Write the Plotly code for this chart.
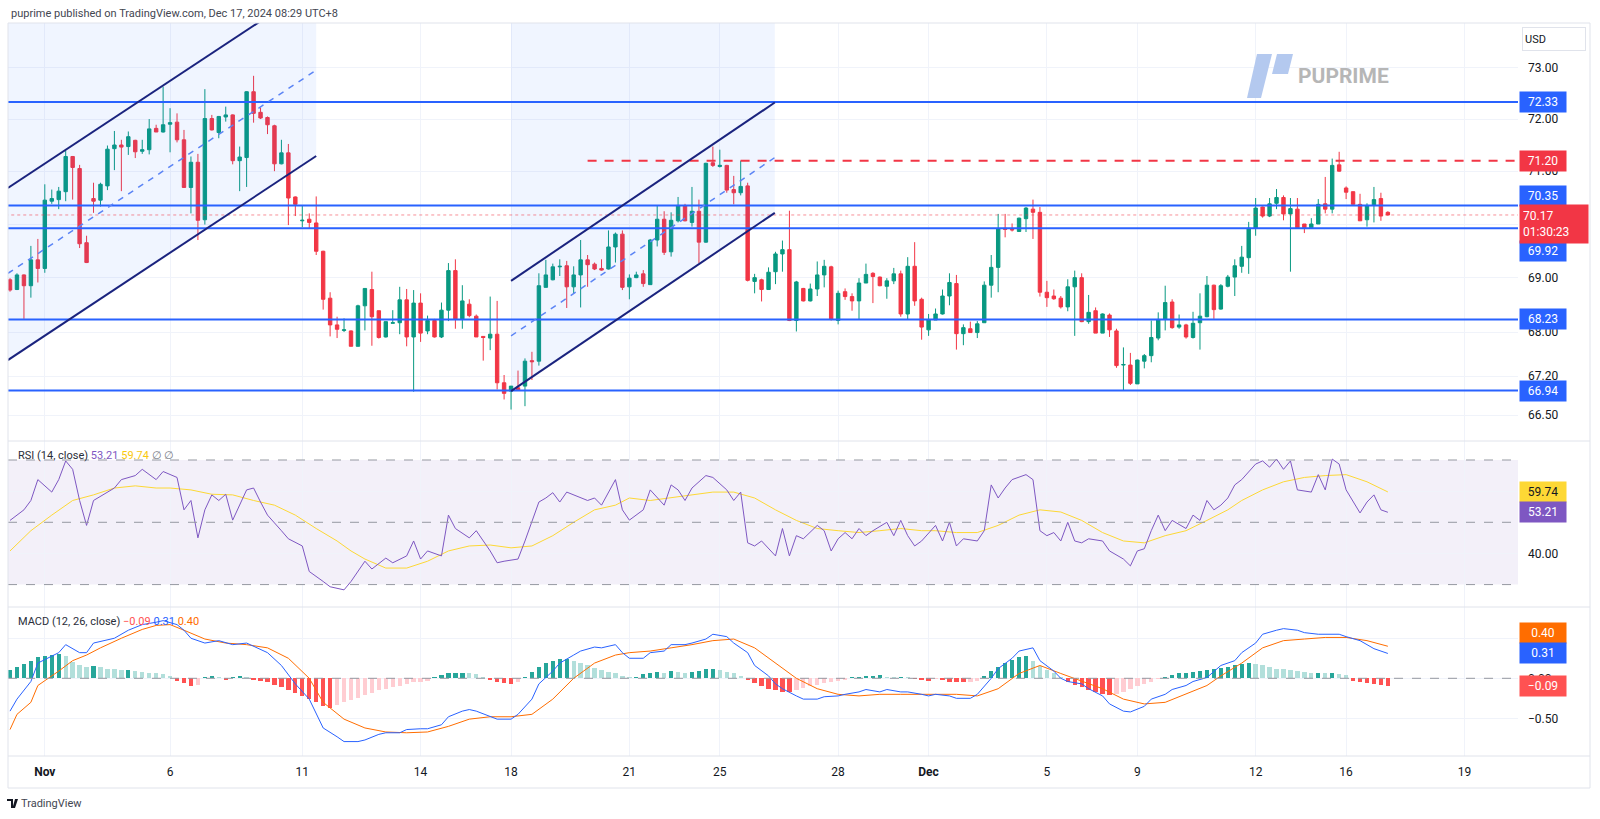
import math
import plotly.graph_objects as go

# ---------------- DATA ----------------
# 4h candles, bar index 0..198
opens = [68.96,68.78,69.05,68.85,69.33,69.17,70.43,70.46,70.61,71.28,
71.05,69.65,70.48,70.45,70.72,71.43,71.50,71.47,71.59,71.38,
71.41,71.82,71.75,71.90,71.94,71.60,70.69,71.17,70.08,72.01,
71.74,72.04,72.08,71.20,71.26,72.53,72.13,72.03,71.87,71.14,
71.35,70.51,70.06,70.09,70.02,69.49,68.62,68.13,68.03,68.02,
67.74,68.48,68.78,68.39,67.91,68.16,68.17,68.59,67.91,68.53,
68.02,68.21,67.91,68.40,69.13,68.24,68.51,68.29,67.92,67.89,
67.96,67.08,66.93,66.99,67.02,67.48,67.47,68.82,68.96,69.20,
69.22,68.83,69.05,69.33,69.25,69.17,69.16,69.57,69.81,68.83,
69.00,69.07,68.87,69.70,70.09,69.48,70.06,70.34,70.03,70.24,
69.66,71.16,71.09,71.11,70.65,70.59,70.72,68.93,68.96,68.78,
69.11,69.44,69.52,68.21,68.80,68.57,68.79,69.05,69.20,68.21,
68.74,68.65,68.57,68.90,69.08,69.01,68.84,68.94,69.07,68.33,
69.21,68.60,68.04,68.22,68.33,68.66,68.89,67.97,68.06,67.99,
68.17,68.86,69.19,69.92,69.90,69.86,70.10,70.28,70.22,68.73,
68.66,68.62,68.46,68.83,69.00,68.19,68.39,67.98,68.31,68.02,
67.40,67.40,67.06,67.47,67.57,67.89,68.23,68.55,68.09,68.13,
67.90,68.17,68.28,68.86,68.42,68.84,69.01,69.21,69.37,69.92,
70.32,70.15,70.39,70.50,70.19,70.28,70.00,69.93,70.00,70.38,
70.28,71.12,70.68,70.61,70.37,70.08,70.35,70.48,70.22]
highs = [68.99,69.08,69.06,69.59,69.72,70.75,70.65,70.70,71.39,71.29,
71.12,69.78,70.78,70.78,71.49,71.77,71.60,71.76,71.60,71.60,
72.00,71.89,72.63,72.21,72.11,71.79,71.28,71.33,72.58,72.08,
72.06,72.24,72.09,71.47,72.54,72.84,72.22,72.05,71.89,71.60,
71.52,70.52,70.34,70.20,70.52,69.50,68.73,68.28,68.25,68.03,
68.50,68.80,69.11,68.39,68.19,68.40,68.83,68.79,68.77,68.71,
68.30,68.24,68.54,69.27,69.34,68.86,68.60,68.32,67.92,68.65,
68.57,67.22,67.02,67.30,67.52,67.64,69.08,69.33,69.26,69.34,
69.31,69.21,69.70,69.42,69.28,69.34,69.88,69.84,69.88,69.06,
69.11,69.14,69.72,70.35,70.24,70.22,70.51,70.38,70.70,70.46,
71.16,71.47,71.41,71.12,70.91,71.20,70.78,69.07,68.98,69.19,
69.48,69.69,70.25,68.94,68.81,68.89,69.30,69.33,69.22,68.76,
68.80,68.71,68.99,69.26,69.10,69.02,68.99,69.18,69.13,69.38,
69.66,68.63,68.33,68.43,68.78,69.08,69.05,68.14,68.19,68.20,
68.93,69.42,70.19,70.19,70.01,70.12,70.32,70.46,70.32,68.94,
68.78,68.66,68.97,69.13,69.08,68.68,68.45,68.34,68.34,68.06,
67.72,67.62,67.50,67.60,68.21,68.36,68.85,68.60,68.32,68.15,
68.37,68.71,69.03,68.87,68.88,69.05,69.34,69.59,70.04,70.49,
70.33,70.49,70.66,70.54,70.49,70.49,70.00,70.11,70.47,70.89,
71.24,71.37,70.71,70.61,70.57,70.39,70.70,70.59,70.24]
lows = [68.74,68.77,68.24,68.63,68.91,69.09,70.38,70.28,70.43,70.46,
69.55,69.27,70.21,70.33,70.64,71.02,70.62,71.31,71.25,71.33,
71.32,71.75,71.74,71.36,71.55,70.68,70.20,69.70,69.99,71.78,
71.63,71.95,71.13,70.62,70.70,71.93,72.00,71.71,71.00,71.13,
69.98,70.15,69.94,69.92,69.42,68.41,67.92,67.89,68.00,67.74,
67.74,68.03,67.75,67.88,67.90,68.16,67.96,67.74,66.92,67.82,
67.96,67.90,67.89,68.20,68.06,68.06,68.27,67.91,67.48,67.67,
66.96,66.78,66.60,66.95,66.66,67.13,67.39,68.82,68.95,69.03,
68.44,68.71,68.45,68.83,69.14,69.13,69.15,69.28,68.77,68.60,
68.99,68.83,68.87,69.58,69.42,69.39,70.03,70.05,69.95,69.27,
69.65,71.08,71.07,70.59,70.37,70.54,68.93,68.71,68.56,68.78,
68.88,69.11,68.20,68.01,68.56,68.56,68.66,68.82,68.21,68.14,
68.59,68.39,68.23,68.90,68.53,68.84,68.61,68.88,68.28,68.22,
68.48,67.86,67.93,68.22,68.32,68.49,67.68,67.76,67.99,67.89,
68.17,68.63,68.73,69.75,69.86,69.86,69.85,69.72,68.65,68.46,
68.59,68.43,68.38,67.93,68.18,68.15,67.98,67.98,67.91,67.35,
66.94,67.04,67.06,67.34,67.45,67.85,68.03,68.06,68.06,67.88,
67.88,67.68,68.27,68.24,68.41,68.82,68.66,69.09,69.07,69.78,
70.12,70.13,70.28,70.07,69.11,69.92,69.83,69.92,70.00,70.20,
70.20,70.99,70.47,70.37,70.06,69.95,70.03,70.06,70.16]
closes = [68.77,69.05,68.85,69.33,69.17,70.45,70.48,70.62,71.28,71.07,
69.63,69.28,70.43,70.75,71.42,71.50,71.46,71.66,71.37,71.41,
71.81,71.75,71.89,71.93,71.60,70.69,71.17,70.07,72.01,71.79,
72.05,72.08,71.20,71.27,72.53,72.11,72.02,71.89,71.14,71.35,
70.49,70.37,70.07,70.03,69.49,68.60,68.13,68.05,68.04,67.74,
68.48,68.80,68.28,67.90,68.19,68.17,68.59,67.91,68.53,67.98,
68.21,67.91,68.40,69.13,68.24,68.57,68.30,67.91,67.90,67.96,
67.08,66.89,67.02,66.95,67.47,67.46,68.85,69.05,69.20,69.21,
68.83,69.05,69.33,69.24,69.16,69.14,69.57,69.81,68.82,68.99,
69.05,68.89,69.70,70.09,69.47,70.07,70.35,70.06,70.24,69.66,
71.15,71.11,71.11,70.64,70.59,70.71,68.95,69.00,68.78,69.10,
69.44,69.52,68.21,68.92,68.57,68.79,69.05,69.21,68.24,68.71,
68.65,68.57,68.90,69.06,69.02,68.85,68.94,69.07,68.33,69.21,
68.57,68.09,68.22,68.33,68.66,68.91,67.97,68.08,67.99,68.15,
68.86,69.19,69.91,69.90,69.89,70.11,70.30,70.22,68.73,68.63,
68.61,68.46,68.83,69.00,68.19,68.36,67.98,68.33,68.04,67.39,
67.41,67.07,67.49,67.57,67.90,68.23,68.54,68.08,68.13,67.91,
68.16,68.29,68.86,68.41,68.85,69.01,69.22,69.38,69.92,70.30,
70.15,70.38,70.50,70.19,70.29,69.93,69.93,70.00,70.37,70.28,
71.11,71.00,70.60,70.37,70.06,70.35,70.46,70.15,70.17]

# time axis labels (bar index where each day label sits)
date_ticks = [5, 23, 42, 59, 72, 89, 102, 119, 132, 149, 162, 179, 192, 209]
date_labels = ["<b>Nov</b>", "6", "11", "14", "18", "21", "25", "28", "<b>Dec</b>", "5", "9", "12", "16", "19"]

# price axis
price_ticks = [66.5, 67.2, 68.0, 69.0, 70.0, 71.0, 72.0, 73.0]
price_tick_text = ["66.50", "67.20", "68.00", "69.00", "", "71.00", "72.00", "73.00"]

# horizontal support/resistance levels
levels = [72.33, 70.35, 69.92, 68.23, 66.94]
dashed_level = 71.20
dashed_start = 83
last_price = 70.17

# channels: (bar index, price) at start and end of upper / lower / middle lines
ch1_x = [-0.3, 44.0]
ch1_upper = [70.68, 74.65]
ch1_lower = [67.49, 71.29]
ch1_mid = [69.08, 72.95]
ch2_x = [72.0, 109.9]
ch2_upper = [68.94, 72.32]
ch2_lower = [66.93, 70.21]
ch2_mid = [67.93, 71.26]

# RSI(14)
rsi_x = [0,2,3,4,6,7,8,9,10,11,12,13,15,16,18,19,21,22,24,25,26,27,28,29,30,31,32,34,35,36,37,39,40,42,43,45,46,48,49,51,52,54,55,57,58,59,60,62,63,64,66,67,69,70,71,73,74,76,77,78,79,80,81,83,84,85,87,88,89,91,92,94,95,96,97,98,100,101,103,104,105,106,107,108,110,111,112,113,114,116,117,118,119,120,121,122,123,124,126,127,128,129,130,131,133,134,135,136,137,139,140,141,142,143,144,146,147,148,149,150,151,152,153,154,155,157,158,160,161,162,163,164,165,166,167,169,170,171,172,173,174,175,176,177,179,180,181,182,183,184,185,187,188,189,190,191,192,193,194,195,196,197,198]
rsi_y = [50.6,54,57,63.7,59.7,63.7,69.7,67,57,49,57,58.4,61,63.7,65,67,63.7,66.3,64.4,54,57,45,54,58.8,57,59,50.7,60.4,61,56.5,52.3,47.3,44.7,42.4,34.2,31,29.3,28.3,31,37.5,35,38.5,37,39.2,44,38.2,40.8,39.2,52.3,48,45,47.3,40.8,37,37.5,38.2,44,56.5,57.8,59.5,56.5,59.7,58.8,57,57.8,55.5,63.7,54,50.7,54,60.4,55.5,62,60.4,57,61,65,64.4,60.4,57,59.7,43.4,42.4,44,39.2,48,39.2,45.7,44.7,49,47.3,40.8,44.7,46.7,44.7,48,45.7,47.3,50,45.7,50.6,45.7,42.4,44,49,44,50,42.4,44.7,44,47.3,62,57.8,61,63.7,65.3,63.7,47.3,45.7,46.7,44,50,44,43.4,44.7,44,40.8,38.2,36,40.8,41.5,47.3,52.3,47.3,50.6,48,52.3,50.6,57,54,55.5,57.8,62,63.7,68.7,69.7,67.7,70.3,67,69.7,60.4,59.7,65.3,60.4,70.3,68.7,60.4,56.5,53,56.5,58.8,54,53.21]
rsi_ma_x = [0,3,6,9,12,15,18,21,23,26,29,32,35,38,41,44,47,49,51,54,57,60,63,66,69,72,75,78,81,84,87,89,92,95,98,101,104,107,110,113,116,119,122,125,128,131,133,136,139,142,145,148,151,154,157,160,163,166,169,172,175,177,180,183,186,189,192,195,198]
rsi_ma_y = [40.8,47.3,52.3,57,58.8,61,61.7,61,61,60.4,59,58.8,57,55.5,52.3,48,44,40.8,38.2,35.3,35.3,37.5,40.8,42.4,42.7,41.8,42.4,45.7,50,54,55.5,57.8,57,57.8,58.8,59.7,59.7,57.8,54,50.6,48,47.3,46.7,47.3,48,47.3,47.3,46.7,46.7,49,52.3,54,53.3,50.6,46.7,44,43.4,45.7,47.3,50.6,54,57,60.4,63,64.4,65,65.3,63,59.74]

# MACD(12, 26)
macd_x = [0,1,3,4,7,8,10,11,12,15,17,19,21,22,24,25,26,28,30,32,34,37,39,41,43,44,45,47,48,50,51,53,54,56,57,59,60,62,63,65,66,67,69,70,72,73,75,76,78,79,81,82,84,85,87,88,89,91,92,94,95,97,98,100,101,103,104,106,107,109,110,111,113,114,116,117,119,120,122,123,125,126,128,129,131,132,133,135,136,138,139,141,142,144,145,147,148,150,151,152,154,155,157,158,160,161,163,164,166,167,169,170,172,173,174,176,177,179,180,182,183,185,186,188,189,191,192,194,195,196,198]
macd_y = [-0.41,-0.26,-0.04,0.19,0.32,0.42,0.32,0.32,0.44,0.50,
0.60,0.67,0.70,0.72,0.67,0.60,0.50,0.44,0.47,0.42,
0.44,0.32,0.16,-0.07,-0.26,-0.45,-0.62,-0.73,-0.79,-0.79,
-0.77,-0.70,-0.68,-0.68,-0.64,-0.63,-0.63,-0.58,-0.48,-0.41,
-0.39,-0.41,-0.48,-0.51,-0.51,-0.45,-0.26,-0.07,0.09,0.19,
0.29,0.34,0.39,0.38,0.42,0.32,0.25,0.25,0.32,0.34,
0.42,0.42,0.44,0.49,0.55,0.52,0.44,0.32,0.16,0.03,
-0.07,-0.13,-0.22,-0.26,-0.26,-0.23,-0.22,-0.20,-0.17,-0.14,
-0.17,-0.14,-0.17,-0.17,-0.20,-0.22,-0.20,-0.22,-0.25,-0.25,
-0.20,0.00,0.12,0.25,0.34,0.38,0.22,0.09,0.00,-0.04,
-0.07,-0.13,-0.22,-0.32,-0.41,-0.42,-0.35,-0.26,-0.20,-0.14,
-0.09,-0.04,0.01,0.09,0.16,0.22,0.32,0.44,0.55,0.60,
0.62,0.60,0.57,0.55,0.55,0.55,0.52,0.47,0.42,0.37,
0.31]
signal_x = [0,1,3,4,7,9,11,13,16,19,21,23,25,28,31,34,37,40,43,45,48,51,54,57,60,63,66,69,72,75,78,81,84,87,89,92,95,98,101,104,107,110,113,116,119,122,125,128,131,133,136,139,142,145,148,151,154,157,160,163,166,169,172,174,177,180,183,186,189,192,195,198]
signal_y = [-0.64,-0.45,-0.30,-0.09,0.09,0.22,0.29,0.38,0.50,0.61,0.66,0.67,0.60,
0.49,0.44,0.42,0.38,0.25,0.00,-0.30,-0.51,-0.62,-0.67,-0.68,-0.67,-0.60,-0.51,-0.48,-0.48,-0.45,
-0.26,0.00,0.19,0.29,0.32,0.34,0.38,0.42,0.47,0.49,0.38,0.19,0.00,-0.13,-0.20,-0.22,-0.20,-0.20,
-0.20,-0.20,-0.20,-0.22,-0.13,0.06,0.16,0.06,-0.04,-0.13,-0.26,-0.32,-0.30,-0.20,-0.09,0.03,0.19,
0.38,0.47,0.49,0.51,0.51,0.47,0.40]
hist = [0.10,0.14,0.18,0.22,0.26, 0.28,0.29,0.30,0.28, 0.20,0.17,0.14,0.15,0.14,
0.12,0.11,0.10,0.10,0.09,0.08,0.07, 0.06,0.05,0.03, -0.03,-0.06,-0.10,-0.08,
0.01,0.03,0.02,-0.02,0.02,0.03,0.01,
-0.02,-0.03,-0.05,-0.08,-0.11,-0.14,-0.18,-0.22,-0.26,-0.30,-0.35, -0.37,-0.33,
-0.30,-0.27,-0.24,-0.21,-0.18,-0.15,-0.13,-0.11,-0.09,-0.07,-0.05,-0.04,-0.03,
0.02,0.04,0.06,0.07,0.07,0.06,0.05, 0.02,-0.02,-0.04,-0.06,-0.07,-0.05,
0.02,0.08,0.14,0.19,0.22,0.24,0.24, 0.22,0.19,0.16,0.13,0.10,0.08,
0.06,0.03,0.01,0.02,0.05,0.06,
0.08,0.07,0.09,0.08,0.07,0.08,0.09,0.11,0.12,0.10,0.08,0.06,
0.03,-0.02,-0.06,-0.10, -0.13,-0.15,-0.17,-0.17,-0.15,
-0.12,-0.10,-0.08,-0.06,-0.04,-0.03,-0.02,
0.01,0.02,0.03,0.03,0.04,0.02,0.01,0.02,0.01,-0.01,-0.02,-0.03,-0.01,-0.02,-0.04,-0.04,-0.05,-0.04,-0.03,
0.03,0.09,0.14,0.19,0.23,0.26,0.28, 0.22,0.15,0.10,0.06,0.02,
-0.04,-0.08,-0.11,-0.14,-0.17,-0.19,-0.21, -0.20,-0.17,-0.13,-0.10,-0.07,-0.04,-0.01,
0.02,0.04,0.06,0.07,0.08,0.09,0.10,0.11,0.13,0.14,0.16,0.18,0.19,
0.18,0.16,0.14,0.12,0.11,0.10,0.09,0.08,0.07,0.07,0.06,0.06,0.05,0.04,
-0.03,-0.05,-0.06,-0.07,-0.08,-0.09]

N = len(closes)
assert len(opens) == N and len(highs) == N and len(lows) == N and len(hist) == N
assert len(rsi_x) == len(rsi_y) and len(rsi_ma_x) == len(rsi_ma_y)
assert len(macd_x) == len(macd_y) and len(signal_x) == len(signal_y)
bars = list(range(N))

# ---------------- LAYOUT GEOMETRY ----------------
W, H = 1600, 819
ML, MR, MT, MB = 8, 82, 23, 63
PW, PH = W - ML - MR, H - MT - MB


def fx(p):
    return (p - ML) / PW


def fy(p):
    return (H - MB - p) / PH


FONT = "Roboto, 'Noto Sans', sans-serif"
TXT = "#131722"
GRID = "#f0f3fa"
UP, DN = "#089981", "#f23645"
LVL = "#2962ff"
NAVY = "#1a237e"
XR = [-0.29, 216.7]
P_RANGE = [math.log10(66.04), math.log10(73.88)]

fig = go.Figure()

# channel backgrounds
TOP = 80.0
for cx, lo in ((ch1_x, ch1_lower), (ch2_x, ch2_lower)):
    fig.add_trace(go.Scatter(x=[cx[0], cx[1], cx[1], cx[0], cx[0]],
                             y=[lo[0], lo[1], TOP, TOP, lo[0]],
                             fill="toself", fillcolor="rgba(41,120,255,0.07)",
                             line=dict(width=0), mode="lines", hoverinfo="skip",
                             xaxis="x", yaxis="y"))

fig.add_trace(go.Candlestick(x=bars, open=opens, high=highs, low=lows, close=closes,
                             increasing=dict(line=dict(color=UP, width=1), fillcolor=UP),
                             decreasing=dict(line=dict(color=DN, width=1), fillcolor=DN),
                             whiskerwidth=0, xaxis="x", yaxis="y", hoverinfo="skip"))

# last price dotted
fig.add_trace(go.Scatter(x=[-5, 230], y=[last_price, last_price], mode="lines",
                         line=dict(color="rgba(242,54,69,0.55)", width=1, dash="dot"),
                         xaxis="x", yaxis="y", hoverinfo="skip"))
# levels
for lv in levels:
    fig.add_trace(go.Scatter(x=[-5, 230], y=[lv, lv], mode="lines",
                             line=dict(color=LVL, width=2), xaxis="x", yaxis="y",
                             hoverinfo="skip"))
fig.add_trace(go.Scatter(x=[dashed_start, 230], y=[dashed_level, dashed_level], mode="lines",
                         line=dict(color=DN, width=2, dash="9px,8px"), xaxis="x", yaxis="y",
                         hoverinfo="skip"))
# channel lines
for cx, up, lo, mid in ((ch1_x, ch1_upper, ch1_lower, ch1_mid), (ch2_x, ch2_upper, ch2_lower, ch2_mid)):
    fig.add_trace(go.Scatter(x=cx, y=up, mode="lines", line=dict(color=NAVY, width=2),
                             xaxis="x", yaxis="y", hoverinfo="skip"))
    fig.add_trace(go.Scatter(x=cx, y=lo, mode="lines", line=dict(color=NAVY, width=2),
                             xaxis="x", yaxis="y", hoverinfo="skip"))
    fig.add_trace(go.Scatter(x=cx, y=mid, mode="lines",
                             line=dict(color="#5b84f5", width=1.5, dash="6px,6px"),
                             xaxis="x", yaxis="y", hoverinfo="skip"))

# RSI
fig.add_trace(go.Scatter(x=rsi_ma_x, y=rsi_ma_y, mode="lines", line=dict(color="#fdd835", width=1),
                         xaxis="x2", yaxis="y2", hoverinfo="skip"))
fig.add_trace(go.Scatter(x=rsi_x, y=rsi_y, mode="lines", line=dict(color="#7e57c2", width=1),
                         xaxis="x2", yaxis="y2", hoverinfo="skip"))

# MACD histogram colours
hcol = []
for i, v in enumerate(hist):
    prev = hist[i - 1] if i > 0 else v
    if v >= 0:
        hcol.append("#26a69a" if v >= prev else "#b2dfdb")
    else:
        hcol.append("#ff5252" if v <= prev else "#ffcdd2")
fig.add_trace(go.Bar(x=bars, y=hist, marker=dict(color=hcol, line=dict(width=0)), width=0.62,
                     xaxis="x3", yaxis="y3", hoverinfo="skip"))
fig.add_trace(go.Scatter(x=signal_x, y=signal_y, mode="lines", line=dict(color="#ff6d00", width=1),
                         xaxis="x3", yaxis="y3", hoverinfo="skip"))
fig.add_trace(go.Scatter(x=macd_x, y=macd_y, mode="lines", line=dict(color="#2962ff", width=1),
                         xaxis="x3", yaxis="y3", hoverinfo="skip"))

xcommon = dict(range=XR, tickvals=date_ticks, showgrid=True, gridcolor=GRID, zeroline=False,
               showline=False, ticks="", fixedrange=True)
ycommon = dict(side="right", showgrid=True, gridcolor=GRID, zeroline=False, showline=False,
               ticks="", ticklabelstandoff=9, tickfont=dict(family=FONT, size=12, color=TXT),
               fixedrange=True)

d_price = [fy(441), 1]
d_rsi = [fy(607), fy(441)]
d_macd = [0, fy(607)]

fig.update_layout(
    width=W, height=H, autosize=False,
    margin=dict(l=ML, r=MR, t=MT, b=MB),
    paper_bgcolor="white", plot_bgcolor="white",
    showlegend=False, bargap=0,
    font=dict(family=FONT, size=12, color=TXT),
    xaxis=dict(xcommon, anchor="y", showticklabels=False, rangeslider=dict(visible=False)),
    xaxis2=dict(xcommon, anchor="y2", matches="x", showticklabels=False),
    xaxis3=dict(xcommon, anchor="y3", matches="x", ticktext=date_labels, showticklabels=True,
                tickfont=dict(family=FONT, size=12, color=TXT), ticklabelstandoff=7),
    yaxis=dict(ycommon, domain=d_price, type="log", range=P_RANGE, tickvals=price_ticks,
               ticktext=price_tick_text),
    yaxis2=dict(ycommon, domain=d_rsi, range=[22.8, 76.1], tickvals=[40, 60],
                ticktext=["40.00", ""]),
    yaxis3=dict(ycommon, domain=d_macd, range=[-0.97, 0.89], tickvals=[-0.5, 0, 0.5],
                ticktext=["\u22120.50", "0.00", ""]),
)

shapes = []
# RSI band + guide lines
shapes.append(dict(type="rect", xref="x2 domain", yref="y2", x0=0, x1=1, y0=30, y1=70,
                   fillcolor="rgba(126,87,194,0.09)", line=dict(width=0), layer="below"))
for lv in (70, 50, 30):
    shapes.append(dict(type="line", xref="x2 domain", yref="y2", x0=0, x1=1, y0=lv, y1=lv,
                       line=dict(color="#9598a1", width=1, dash="dash")))
shapes.append(dict(type="line", xref="x3 domain", yref="y3", x0=0, x1=1, y0=0, y1=0,
                   line=dict(color="#9598a1", width=1, dash="dash")))
# frame and pane separators
XR_EDGE = fx(1590)
shapes.append(dict(type="rect", xref="paper", yref="paper", x0=0, x1=XR_EDGE, y0=fy(788), y1=1,
                   line=dict(color="#e0e3eb", width=1), fillcolor="rgba(0,0,0,0)"))
for py in (441, 607, 756):
    shapes.append(dict(type="line", xref="paper", yref="paper", x0=0, x1=XR_EDGE, y0=fy(py), y1=fy(py),
                       line=dict(color="#e0e3eb", width=1)))


def path(pts):
    return "M " + " L ".join(f"{fx(a):.5f},{fy(b):.5f}" for a, b in pts) + " Z"


# watermark logo
shapes.append(dict(type="path", xref="paper", yref="paper",
                   path=path([(1257, 54), (1272, 54), (1261, 98), (1247, 98)]),
                   fillcolor="#b4c9ef", line=dict(width=0)))
shapes.append(dict(type="path", xref="paper", yref="paper",
                   path=path([(1277, 54), (1293, 54), (1288, 74), (1272, 74)]),
                   fillcolor="#b4c9ef", line=dict(width=0)))
# TradingView footer icon
shapes.append(dict(type="path", xref="paper", yref="paper",
                   path=path([(7, 799), (13, 799), (13, 808), (11, 808), (11, 801), (7, 801)]),
                   fillcolor=TXT, line=dict(width=0)))
shapes.append(dict(type="path", xref="paper", yref="paper",
                   path=path([(15, 799), (18, 799), (15, 808), (12.5, 808)]),
                   fillcolor=TXT, line=dict(width=0)))
fig.update_layout(shapes=shapes)

ann = []
ann.append(dict(xref="paper", yref="paper", x=fx(9), y=fy(13), xanchor="left", yanchor="middle",
                text="puprime published on TradingView.com, Dec 17, 2024 08:29 UTC+8",
                showarrow=False, font=dict(family=FONT, size=11, color="#434651")))
ann.append(dict(xref="paper", yref="paper", x=fx(19), y=fy(803.5), xanchor="left", yanchor="middle",
                text="TradingView", showarrow=False, font=dict(family=FONT, size=11, color="#434651")))
ann.append(dict(xref="paper", yref="paper", x=fx(1296), y=fy(76), xanchor="left", yanchor="middle",
                text="<b>PUPRIME</b>", showarrow=False, font=dict(family=FONT, size=21, color="#b6b6b6")))
ann.append(dict(xref="paper", yref="paper", x=fx(1522), y=fy(38.5), xanchor="left", yanchor="middle",
                text="USD", showarrow=False, width=58, height=18, align="left",
                bordercolor="#e0e3eb", borderwidth=1, borderpad=2, bgcolor="white",
                font=dict(family=FONT, size=11, color=TXT)))
ann.append(dict(xref="paper", yref="paper", x=fx(16), y=fy(455), xanchor="left", yanchor="middle",
                text=("RSI (14, close) <span style='color:#7e57c2'>53.21</span> "
                      "<span style='color:#f9c80e'>59.74</span> "
                      "<span style='color:#787b86'>\u2205</span> <span style='color:#787b86'>\u2205</span>"),
                showarrow=False, font=dict(family=FONT, size=11, color="#2a2e39")))
ann.append(dict(xref="paper", yref="paper", x=fx(16), y=fy(621), xanchor="left", yanchor="middle",
                text=("MACD (12, 26, close) <span style='color:#ff5252'>\u22120.09</span> "
                      "<span style='color:#2962ff'>0.31</span> <span style='color:#ff6d00'>0.40</span>"),
                showarrow=False, font=dict(family=FONT, size=11, color="#2a2e39")))


def tag(yref, yval, text, bg, fg="white", shift=0, width=42, height=16):
    ann.append(dict(xref="paper", yref=yref, x=fx(1519), y=yval, xanchor="left", yanchor="middle",
                    yshift=shift, text=text, showarrow=False, width=width, height=height,
                    align="center", bgcolor=bg, borderpad=2,
                    font=dict(family=FONT, size=12, color=fg)))


lg = math.log10
tag("y", lg(72.33), "72.33", LVL)
tag("y", lg(71.20), "71.20", DN)
tag("y", lg(70.35), "70.35", LVL, shift=9)
tag("y", lg(69.92), "69.92", LVL, shift=-23)
tag("y", lg(68.23), "68.23", LVL)
tag("y", lg(66.94), "66.94", LVL)
ann.append(dict(xref="paper", yref="y", x=fx(1519), y=lg(last_price), xanchor="left", yanchor="middle",
                yshift=-9, text="70.17<br>01:30:23", showarrow=False, width=62, height=32,
                align="left", bgcolor=DN, borderpad=3,
                font=dict(family=FONT, size=12, color="white")))
tag("y2", 59.74, "59.74", "#fdd835", fg=TXT)
tag("y2", 53.21, "53.21", "#7e57c2")
tag("y3", 0.31, "0.40", "#ff6d00", shift=20)
tag("y3", 0.31, "0.31", "#2962ff")
tag("y3", -0.09, "\u22120.09", "#ff5252")
fig.update_layout(annotations=ann)

fig.write_html("out.html", config=dict(displayModeBar=False, staticPlot=True),
               post_script="document.body.style.margin='0';document.body.style.overflow='hidden';")
